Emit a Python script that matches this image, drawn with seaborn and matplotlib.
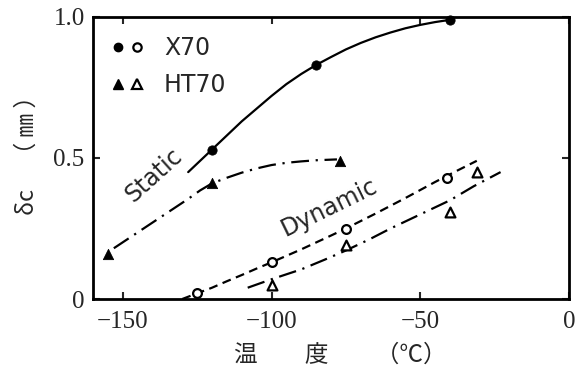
import numpy as np
import pandas as pd
import matplotlib
matplotlib.use('Agg')
import matplotlib.pyplot as plt
import seaborn as sns
from matplotlib.lines import Line2D
from matplotlib.legend_handler import HandlerTuple

# measured points (temperature in C, delta_c in mm)
x70_static_temp = [-120, -85, -40]
x70_static_dc = [0.53, 0.83, 0.99]
ht70_static_temp = [-155, -120, -77]
ht70_static_dc = [0.16, 0.41, 0.49]
x70_dynamic_temp = [-125, -100, -75, -41]
x70_dynamic_dc = [0.02, 0.13, 0.25, 0.43]
ht70_dynamic_temp = [-100, -75, -40, -31]
ht70_dynamic_dc = [0.05, 0.19, 0.31, 0.45]

# hand-drawn trend curves
x70_static_curve_t = [-128, -124, -120, -115, -110, -105, -100, -95, -90, -85,
                      -80, -75, -70, -65, -60, -55, -50, -45, -40]
x70_static_curve_dc = [0.45, 0.49, 0.53, 0.58, 0.63, 0.675, 0.72, 0.762, 0.798, 0.83,
                       0.858, 0.885, 0.908, 0.928, 0.945, 0.96, 0.972, 0.982, 0.99]
ht70_static_curve_t = [-153, -148, -143, -138, -133, -128, -124, -120, -115, -110,
                       -105, -100, -95, -90, -85, -78]
ht70_static_curve_dc = [0.18, 0.215, 0.25, 0.285, 0.32, 0.355, 0.385, 0.41, 0.43, 0.448,
                        0.463, 0.475, 0.483, 0.488, 0.492, 0.495]
x70_dynamic_curve_t = [-130, -125, -120, -115, -110, -105, -100, -90, -80, -75,
                       -65, -55, -45, -38, -31]
x70_dynamic_curve_dc = [0.0, 0.02, 0.04, 0.063, 0.085, 0.108, 0.13, 0.176, 0.225, 0.25,
                        0.303, 0.358, 0.415, 0.453, 0.49]
ht70_dynamic_curve_t = [-108, -100, -90, -82, -75, -67, -60, -50, -40, -32, -23]
ht70_dynamic_curve_dc = [0.04, 0.07, 0.105, 0.14, 0.172, 0.212, 0.25, 0.30, 0.35, 0.40, 0.45]

x_ticks = [-150, -100, -50, 0]
y_ticks = [0, 0.5, 1.0]
y_tick_labels = ['0', '0.5', '1.0']

sns.set_style('ticks')
plt.rcParams['font.family'] = ['DejaVu Sans', 'Noto Sans CJK JP']

fig = plt.figure(figsize=(5.79, 3.69), dpi=100)
fig.patch.set_facecolor('white')
ax = fig.add_axes([93 / 579, 70 / 369, 476 / 579, 282 / 369])

# curves
dash_dot = (0, (8, 3, 1, 3))
sns.lineplot(x=x70_static_curve_t, y=x70_static_curve_dc, ax=ax, color='black',
             lw=1.6, linestyle='-', sort=False)
sns.lineplot(x=ht70_static_curve_t, y=ht70_static_curve_dc, ax=ax, color='black',
             lw=1.6, linestyle=dash_dot, sort=False)
sns.lineplot(x=x70_dynamic_curve_t, y=x70_dynamic_curve_dc, ax=ax, color='black',
             lw=1.6, linestyle=(0, (4, 2.5)), sort=False)
sns.lineplot(x=ht70_dynamic_curve_t, y=ht70_dynamic_curve_dc, ax=ax, color='black',
             lw=1.6, linestyle=dash_dot, sort=False)

# markers
sns.scatterplot(x=x70_static_temp, y=x70_static_dc, ax=ax, marker='o', s=45,
                color='black', edgecolor='black', clip_on=False, zorder=3)
sns.scatterplot(x=ht70_static_temp, y=ht70_static_dc, ax=ax, marker='^', s=55,
                color='black', edgecolor='black', clip_on=False, zorder=3)
sns.scatterplot(x=x70_dynamic_temp, y=x70_dynamic_dc, ax=ax, marker='o', s=40,
                color='white', edgecolor='black', linewidth=1.6, clip_on=False, zorder=3)
sns.scatterplot(x=ht70_dynamic_temp, y=ht70_dynamic_dc, ax=ax, marker='^', s=50,
                color='white', edgecolor='black', linewidth=1.6, clip_on=False, zorder=3)

# curve labels
ax.text(-139.5, 0.44, 'Static', rotation=42, ha='center', va='center', fontsize=17)
ax.text(-80.5, 0.325, 'Dynamic', rotation=26, ha='center', va='center', fontsize=17)

# legend with filled + open marker pairs
h_x70 = (Line2D([], [], marker='o', ls='', color='black', ms=6),
         Line2D([], [], marker='o', ls='', mfc='white', mec='black', mew=1.6, ms=6))
h_ht70 = (Line2D([], [], marker='^', ls='', color='black', ms=7),
          Line2D([], [], marker='^', ls='', mfc='white', mec='black', mew=1.6, ms=7))
ax.legend([h_x70, h_ht70], ['X70', 'HT70'],
          handler_map={tuple: HandlerTuple(ndivide=None, pad=0.3)},
          loc='upper left', bbox_to_anchor=(0.0, 1.0), frameon=False, fontsize=17,
          handlelength=1.3, handletextpad=0.9, labelspacing=0.55, borderaxespad=0.4)

# axes styling
ax.set_xlim(-160, 0)
ax.set_ylim(0, 1.0)
ax.set_xticks(x_ticks)
ax.set_yticks(y_ticks)
ax.set_yticklabels(y_tick_labels)
for lab in ax.get_xticklabels() + ax.get_yticklabels():
    lab.set_fontfamily('Liberation Serif')
    lab.set_fontsize(18)
ax.tick_params(direction='in', length=5, width=1.5, top=True, right=True)
ax.tick_params(axis='x', pad=9)
ax.tick_params(axis='y', pad=6)
for sp in ax.spines.values():
    sp.set_linewidth(2)
    sp.set_color('black')

ax.set_xlabel('温　　度　　（℃）', fontsize=17, family=['Noto Sans CJK JP', 'DejaVu Sans'])
ax.set_ylabel('δc　（ ㎜ ）', fontsize=17, family=['Noto Sans CJK JP', 'DejaVu Sans'])
ax.xaxis.set_label_coords(0.52, -0.16)
ax.yaxis.set_label_coords(-0.115, 0.53)

plt.savefig('out.png', dpi=100)
plt.close()
